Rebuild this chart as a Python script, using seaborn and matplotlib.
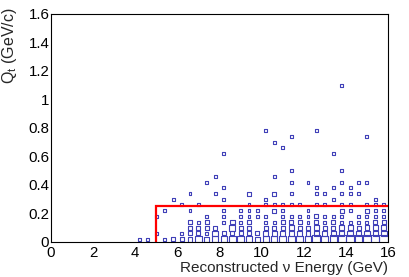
"""
Qt vs reconstructed neutrino energy, ROOT-style box histogram with the
selection cut (E > 5 GeV, Qt < 0.25 GeV/c) drawn in red.

Run with:  python3 plot.py
Output:    out.png
"""

import matplotlib

matplotlib.use("Agg")  # no display
import matplotlib.pyplot as plt
import pandas as pd
import seaborn as sns
from matplotlib.ticker import FormatStrFormatter, MultipleLocator

# --- data: cell centres of the 0.4 GeV x 0.04 GeV/c histogram -----------
E_COLS = [4.2, 4.6, 5.0, 5.4, 5.8, 6.2, 6.6, 7.0, 7.4, 7.8, 8.2, 8.6, 9.0,
          9.4, 9.8, 10.2, 10.6, 11.0, 11.4, 11.8, 12.2, 12.6, 13.0, 13.4,
          13.8, 14.2, 14.6, 15.0, 15.4, 15.8]

QT_CELLS = [
    [0.02],                                                        # 4.2
    [0.02],                                                        # 4.6
    [0.06, 0.18],                                                  # 5.0
    [0.02, 0.22],                                                  # 5.4
    [0.02, 0.30],                                                  # 5.8
    [0.02, 0.06, 0.26],                                            # 6.2
    [0.02, 0.06, 0.10, 0.14, 0.22, 0.34],                          # 6.6
    [0.02, 0.06, 0.10, 0.14, 0.26],                                # 7.0
    [0.02, 0.06, 0.10, 0.14, 0.18, 0.42],                          # 7.4
    [0.02, 0.06, 0.10, 0.34, 0.46],                                # 7.8
    [0.02, 0.06, 0.14, 0.18, 0.22, 0.30, 0.38, 0.62],              # 8.2
    [0.02, 0.06, 0.10, 0.14],                                      # 8.6
    [0.02, 0.06, 0.10, 0.14, 0.18, 0.22],                          # 9.0
    [0.02, 0.06, 0.10, 0.14, 0.18, 0.22, 0.26, 0.34],              # 9.4
    [0.02, 0.06, 0.18, 0.22],                                      # 9.8
    [0.02, 0.06, 0.10, 0.14, 0.18, 0.26, 0.30, 0.78],              # 10.2
    [0.02, 0.06, 0.10, 0.14, 0.22, 0.26, 0.34, 0.46, 0.70],        # 10.6
    [0.02, 0.06, 0.10, 0.14, 0.18, 0.22, 0.26, 0.66],              # 11.0
    [0.02, 0.06, 0.10, 0.14, 0.18, 0.26, 0.34, 0.42, 0.50, 0.74],  # 11.4
    [0.02, 0.06, 0.10, 0.14, 0.18, 0.26],                          # 11.8
    [0.02, 0.06, 0.10, 0.14, 0.18, 0.22, 0.42],                    # 12.2
    [0.02, 0.06, 0.10, 0.14, 0.18, 0.26, 0.34, 0.38, 0.78],        # 12.6
    [0.02, 0.06, 0.10, 0.14, 0.18, 0.26, 0.34],                    # 13.0
    [0.02, 0.06, 0.10, 0.14, 0.18, 0.30, 0.38, 0.62],              # 13.4
    [0.02, 0.06, 0.10, 0.14, 0.18, 0.22, 0.26, 0.34, 0.42, 0.50, 1.10],  # 13.8
    [0.02, 0.06, 0.10, 0.14, 0.22, 0.26, 0.34, 0.38],              # 14.2
    [0.02, 0.06, 0.10, 0.14, 0.18, 0.34, 0.42],                    # 14.6
    [0.02, 0.06, 0.10, 0.14, 0.18, 0.22, 0.26, 0.42, 0.74],        # 15.0
    [0.02, 0.06, 0.10, 0.14, 0.18, 0.22, 0.26, 0.30],              # 15.4
    [0.02, 0.06, 0.10, 0.14, 0.18, 0.22, 0.26],                    # 15.8
]

N_CELLS = [
    [1],                                  # 4.2
    [1],                                  # 4.6
    [1, 1],                               # 5.0
    [1, 1],                               # 5.4
    [2, 1],                               # 5.8
    [2, 1, 1],                            # 6.2
    [3, 2, 2, 2, 1, 1],                   # 6.6
    [5, 2, 2, 1, 1],                      # 7.0
    [3, 1, 2, 2, 1, 1],                   # 7.4
    [5, 4, 2, 1, 1],                      # 7.8
    [5, 2, 1, 1, 1, 1, 1, 1],             # 8.2
    [6, 2, 4, 3],                         # 8.6
    [5, 2, 2, 1, 1, 1],                   # 9.0
    [5, 2, 2, 2, 1, 1, 1, 2],             # 9.4
    [3, 2, 1, 1],                         # 9.8
    [5, 3, 2, 1, 1, 1, 1, 1],             # 10.2
    [5, 3, 2, 1, 2, 1, 2, 1, 1],          # 10.6
    [6, 3, 2, 2, 1, 1, 1, 1],             # 11.0
    [6, 3, 3, 2, 1, 1, 1, 1, 1, 1],       # 11.4
    [5, 3, 2, 2, 1, 1],                   # 11.8
    [6, 3, 2, 1, 1, 1, 1],                # 12.2
    [8, 3, 3, 2, 2, 1, 1, 1, 1],          # 12.6
    [6, 3, 2, 1, 1, 1, 1],                # 13.0
    [7, 3, 2, 2, 1, 1, 1, 1],             # 13.4
    [8, 4, 3, 1, 1, 2, 1, 1, 1, 1, 1],    # 13.8
    [8, 4, 3, 1, 1, 1, 1, 1],             # 14.2
    [7, 3, 2, 1, 1, 1, 1],                # 14.6
    [9, 4, 3, 1, 1, 2, 1, 1, 1],          # 15.0
    [8, 4, 3, 2, 1, 1, 1, 1],             # 15.4
    [10, 4, 3, 2, 1, 1, 1],               # 15.8
]

# selection cut
CUT_E = 5.0
CUT_QT = 0.25

E_RANGE = (0, 16)
QT_RANGE = (0, 1.6)

BOX_BLUE = "#4040b8"


def main() -> None:
    sns.set_style("white")
    plt.rcParams["font.family"] = ["Liberation Sans", "DejaVu Sans"]
    plt.rcParams["mathtext.fontset"] = "custom"
    plt.rcParams["mathtext.rm"] = "Liberation Sans"

    rows = []
    for e, qts, ns in zip(E_COLS, QT_CELLS, N_CELLS):
        assert len(qts) == len(ns), e
        rows += [{"E": e, "Qt": q, "n": n} for q, n in zip(qts, ns)]
    df = pd.DataFrame(rows)

    fig = plt.figure(figsize=(4.09, 2.77), dpi=100)
    ax = fig.add_axes([0.1247, 0.1264, 0.824, 0.8231])

    # box area ~ content, like ROOT's "BOX" option
    sns.scatterplot(data=df, x="E", y="Qt", size="n", sizes=(4.5, 40.0),
                    size_norm=(1, 10), marker="s", facecolors="none",
                    edgecolor=BOX_BLUE, linewidth=0.8, legend=False, ax=ax)

    ax.plot([CUT_E, CUT_E, E_RANGE[1]], [QT_RANGE[0], CUT_QT, CUT_QT],
            color="red", lw=1.6, solid_joinstyle="miter")

    ax.set_xlim(*E_RANGE)
    ax.set_ylim(*QT_RANGE)
    ax.xaxis.set_major_locator(MultipleLocator(2))
    ax.xaxis.set_minor_locator(MultipleLocator(0.5))
    ax.yaxis.set_major_locator(MultipleLocator(0.2))
    ax.yaxis.set_minor_locator(MultipleLocator(0.04))
    ax.xaxis.set_major_formatter(FormatStrFormatter("%g"))
    ax.yaxis.set_major_formatter(FormatStrFormatter("%g"))

    ax.tick_params(which="both", direction="in", top=False, right=False,
                   color="black", width=0.8, labelsize=10.8, labelcolor="black")
    ax.tick_params(axis="x", which="major", length=4.9, pad=3.0)
    ax.tick_params(axis="x", which="minor", length=2.4)
    ax.tick_params(axis="y", which="major", length=7.3, pad=1.2)
    ax.tick_params(axis="y", which="minor", length=3.6)
    for sp in ax.spines.values():
        sp.set_color("black")
        sp.set_linewidth(0.8)

    xlab = ax.set_xlabel("Reconstructed ν Energy (GeV)", fontsize=11, loc="right")
    xlab.set_va("top")
    ax.xaxis.set_label_coords(1.0, -0.085)

    ylab = ax.set_ylabel("Q$_\\mathrm{t}$ (GeV/c)", fontsize=11.5, loc="top")
    ylab.set_rotation_mode("default")
    ylab.set_ha("center")
    ylab.set_va("top")
    ax.yaxis.set_label_coords(-0.122, 1.03)

    fig.savefig("out.png", dpi=100)
    plt.close(fig)


if __name__ == "__main__":
    main()
